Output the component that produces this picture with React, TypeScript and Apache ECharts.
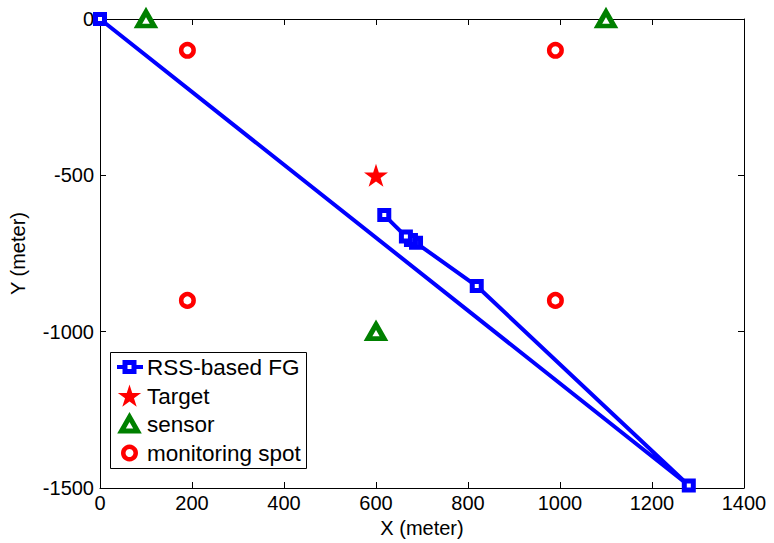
import React, { useEffect, useRef } from "react";
import * as echarts from "echarts";

const fgPath: [number, number][] = [
  [0, 0],
  [1280, -1492],
  [819, -854],
  [687, -716],
  [676, -707],
  [665, -696],
  [618, -627],
];
const target: [number, number][] = [[600, -500]];
const sensors: [number, number][] = [
  [100, 0],
  [1100, 0],
  [600, -1000],
];
const spots: [number, number][] = [
  [190, -100],
  [990, -100],
  [190, -900],
  [990, -900],
];
const xTicks = [0, 200, 400, 600, 800, 1000, 1200, 1400];
const yTicks = [-1500, -1000, -500, 0];
const legendNames = ["RSS-based FG", "Target", "sensor", "monitoring spot"];

const STAR_PTS: [number, number][] = [
  [50, 0], [61.2, 34.5], [97.6, 34.5], [68.2, 55.9], [79.4, 90.5],
  [50, 69.1], [20.6, 90.5], [31.8, 55.9], [2.4, 34.5], [38.8, 34.5],
];
const STAR = "path://M" + STAR_PTS.map((p) => p.join(",")).join(" L") + " Z";

export default function App() {
  const ref = useRef<HTMLDivElement>(null);
  useEffect(() => {
    if (!ref.current) return;
    const chart = echarts.init(ref.current, undefined, { renderer: "svg" });
    const font = "Liberation Sans, Arial, Helvetica, sans-serif";
    const axisCommon = {
      type: "value" as const,
      axisLine: { show: true, onZero: false, lineStyle: { color: "#000", width: 1 } },
      axisTick: { show: true, inside: true, length: 6, lineStyle: { color: "#000" } },
      splitLine: { show: false },
    };
    const fmt = (v: number) => String(v);

    // legend drawn as graphic
    const lx = 110, ly = 352, lw = 196, lh = 116;
    const rowY = [367, 396, 424, 453];
    const iconX = 129.5;
    const textX = 147;
    const starScale = 0.245;
    const legendGraphic: any[] = [
      {
        type: "rect",
        shape: { x: lx + 0.5, y: ly + 0.5, width: lw, height: lh },
        style: { fill: "#fff", stroke: "#000", lineWidth: 1 },
        z: 100,
      },
      {
        type: "line",
        shape: { x1: 117, y1: rowY[0], x2: 143, y2: rowY[0] },
        style: { stroke: "#0000ff", lineWidth: 4 },
        z: 101,
      },
      {
        type: "rect",
        shape: { x: iconX - 4.5, y: rowY[0] - 4.5, width: 9, height: 9 },
        style: { fill: "#fff", stroke: "#0000ff", lineWidth: 5 },
        z: 102,
      },
      {
        type: "polygon",
        shape: {
          points: STAR_PTS.map(([px, py]) => [
            iconX + (px - 50) * starScale,
            rowY[1] + (py - 47) * starScale,
          ]),
        },
        style: { fill: "#ff0000", stroke: "none" },
        z: 101,
      },
      {
        type: "polygon",
        shape: {
          points: [
            [iconX - 8, rowY[2] + 7],
            [iconX + 8, rowY[2] + 7],
            [iconX, rowY[2] - 7],
          ],
        },
        style: { fill: "#fff", stroke: "#008000", lineWidth: 5, lineJoin: "miter" },
        z: 101,
      },
      {
        type: "circle",
        shape: { cx: iconX, cy: rowY[3], r: 6.25 },
        style: { fill: "#fff", stroke: "#ff0000", lineWidth: 4.5 },
        z: 101,
      },
      ...legendNames.map((name, i) => ({
        type: "text",
        x: textX,
        y: rowY[i],
        style: {
          text: name,
          fill: "#000",
          font: `22.5px ${font}`,
          verticalAlign: "middle",
          align: "left",
        },
        z: 101,
      })),
    ];

    chart.setOption({
      animation: false,
      backgroundColor: "#fff",
      textStyle: { fontFamily: font },
      grid: { left: 98, right: 30, top: 19, bottom: 55, containLabel: false },
      xAxis: [
        {
          ...axisCommon,
          position: "bottom",
          min: xTicks[0],
          max: xTicks[xTicks.length - 1],
          interval: 200,
          name: "X (meter)",
          nameLocation: "middle",
          nameGap: 24,
          nameTextStyle: { color: "#000", fontSize: 20, fontFamily: font },
          axisLabel: { color: "#000", fontSize: 20, margin: 5, fontFamily: font, formatter: fmt },
        },
        {
          ...axisCommon,
          position: "top",
          min: xTicks[0],
          max: xTicks[xTicks.length - 1],
          interval: 200,
          axisLabel: { show: false },
        },
      ],
      yAxis: [
        {
          ...axisCommon,
          position: "left",
          min: yTicks[0],
          max: yTicks[yTicks.length - 1],
          interval: 500,
          name: "Y (meter)",
          nameLocation: "middle",
          nameGap: 72,
          nameRotate: 90,
          nameTextStyle: { color: "#000", fontSize: 20, fontFamily: font },
          axisLabel: { color: "#000", fontSize: 20, margin: 6, fontFamily: font, formatter: fmt },
        },
        {
          ...axisCommon,
          position: "right",
          min: yTicks[0],
          max: yTicks[yTicks.length - 1],
          interval: 500,
          axisLabel: { show: false },
        },
      ],
      graphic: legendGraphic,
      series: [
        {
          name: legendNames[0],
          type: "line",
          data: fgPath,
          clip: false,
          symbol: "rect",
          symbolSize: 9,
          showAllSymbol: true,
          lineStyle: { color: "#0000ff", width: 4 },
          itemStyle: { color: "#ffffff", borderColor: "#0000ff", borderWidth: 5 },
          z: 2,
        },
        {
          name: legendNames[1],
          type: "scatter",
          data: target,
          symbol: STAR,
          symbolSize: [24, 23],
          itemStyle: { color: "#ff0000", opacity: 1 },
          z: 3,
        },
        {
          name: legendNames[2],
          type: "scatter",
          data: sensors,
          clip: false,
          symbol: "triangle",
          symbolSize: [16, 14],
          itemStyle: { color: "#ffffff", borderColor: "#008000", borderWidth: 5, opacity: 1 },
          z: 3,
        },
        {
          name: legendNames[3],
          type: "scatter",
          data: spots,
          symbol: "circle",
          symbolSize: 12.5,
          itemStyle: { color: "#ffffff", borderColor: "#ff0000", borderWidth: 4.5, opacity: 1 },
          z: 3,
        },
      ],
    });
    return () => chart.dispose();
  }, []);
  return <div ref={ref} style={{ width: 774, height: 543, position: "absolute", left: 0, top: 0 }} />;
}
